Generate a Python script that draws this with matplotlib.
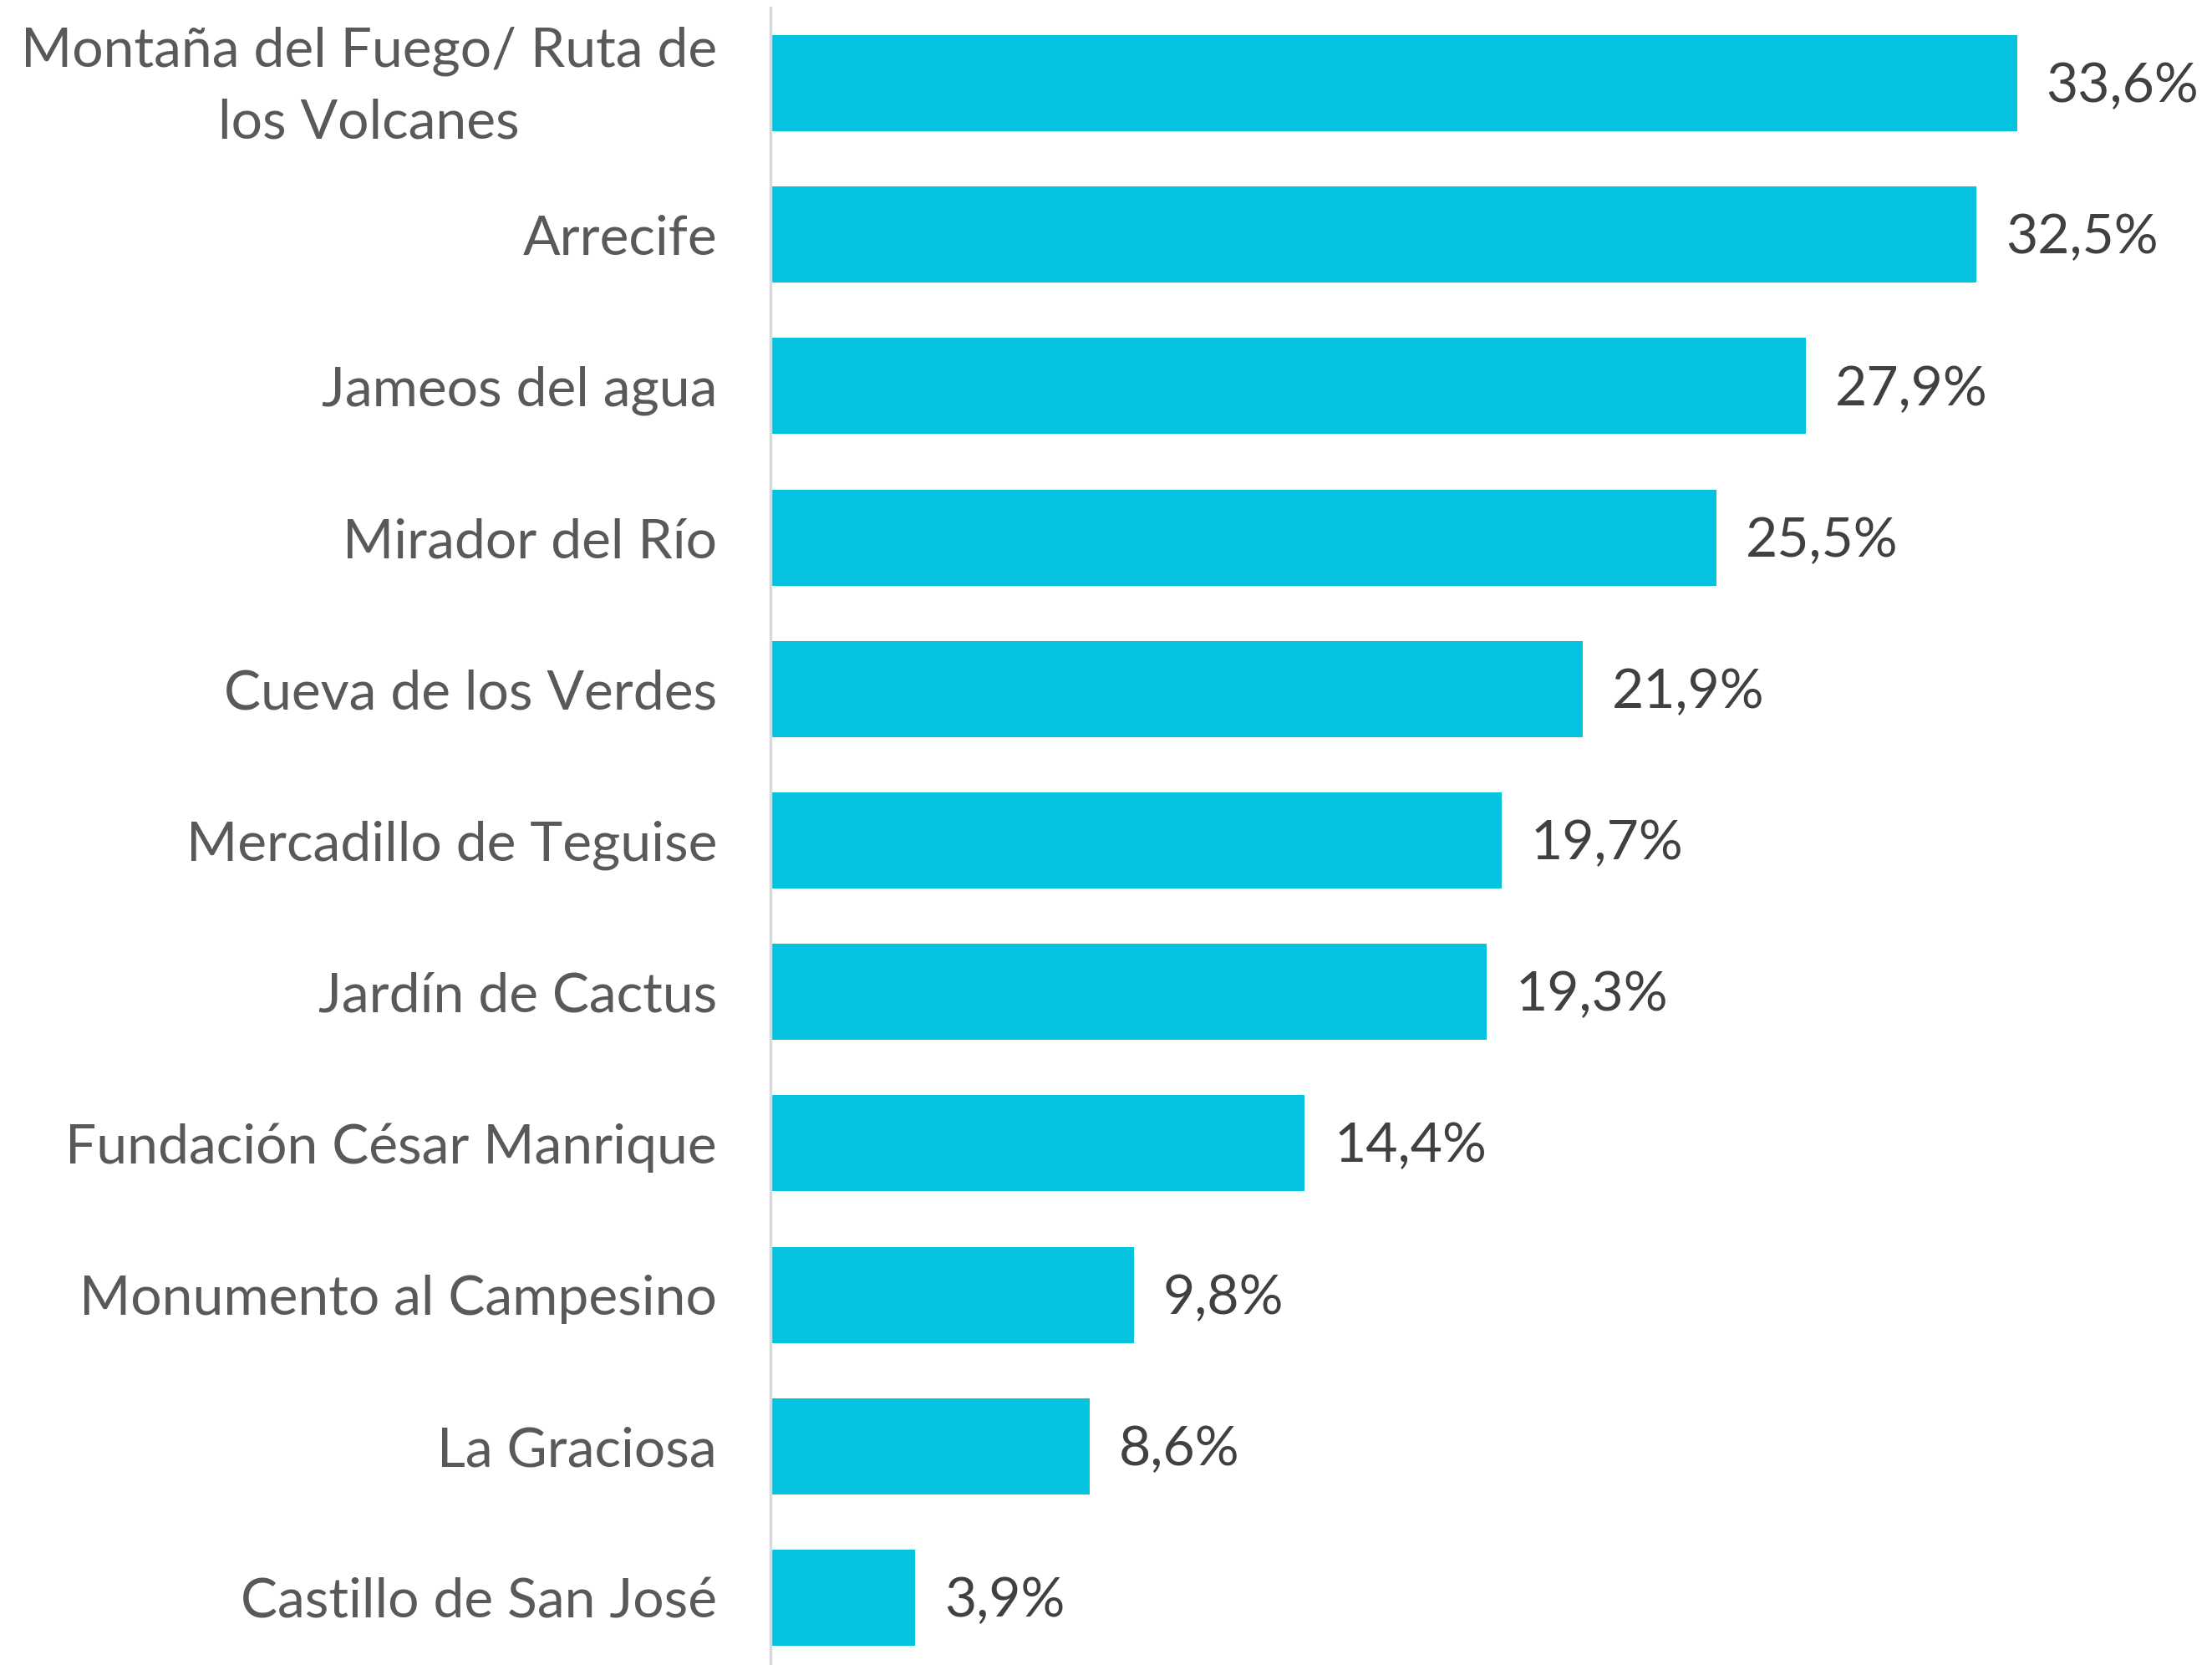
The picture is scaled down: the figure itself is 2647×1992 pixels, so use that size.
import matplotlib.pyplot as plt
import matplotlib.transforms as mtransforms

# Data
places = ["Montaña del Fuego/ Ruta de\nlos Volcanes", "Arrecife", "Jameos del agua",
          "Mirador del Río", "Cueva de los Verdes", "Mercadillo de Teguise",
          "Jardín de Cactus", "Fundación César Manrique", "Monumento al Campesino",
          "La Graciosa", "Castillo de San José"]
percentages = [33.6, 32.5, 27.9, 25.5, 21.9, 19.7, 19.3, 14.4, 9.8, 8.6, 3.9]

bar_color = "#05C3DE"
label_color = "#595959"
value_color = "#404040"

plt.rcParams['font.family'] = ['Lato', 'DejaVu Sans']

fig = plt.figure(figsize=(26.47, 19.92), dpi=100)
W, H = 2647, 1992
ax = fig.add_axes([922 / W, -10 / H, (W - 922) / W, 1993 / H])

y = list(range(len(places)))
bars = ax.barh(y, percentages, height=0.635, color=bar_color)

ax.set_ylim(len(places) - 0.5, -0.5)
ax.set_xlim(0, 38.85)

ax.set_yticks(y)
ax.set_yticklabels(places, fontsize=47.5, color=label_color, linespacing=1.55,
                   ha="right", multialignment="center")
ax.tick_params(axis='y', length=0, pad=46)
ax.set_xticks([])

# nudge the two-line label up a bit so it sits centred on its bar
first = ax.yaxis.get_major_ticks()[0].label1
first.set_transform(first.get_transform() +
                    mtransforms.ScaledTranslation(0, 10 / 72, fig.dpi_scale_trans))

for side in ["top", "right", "bottom"]:
    ax.spines[side].set_visible(False)
ax.spines["left"].set_color("#D9D9D9")
ax.spines["left"].set_linewidth(2.5)

# Value labels with comma decimal separator
for bar, val in zip(bars, percentages):
    ax.annotate(f"{val:.1f}%".replace(".", ","),
                xy=(bar.get_width(), bar.get_y() + bar.get_height() / 2),
                xytext=(25, -3), textcoords="offset points",
                ha="left", va="center", fontsize=47.5, color=value_color)

fig.savefig("out.png", dpi=100, facecolor="white")
